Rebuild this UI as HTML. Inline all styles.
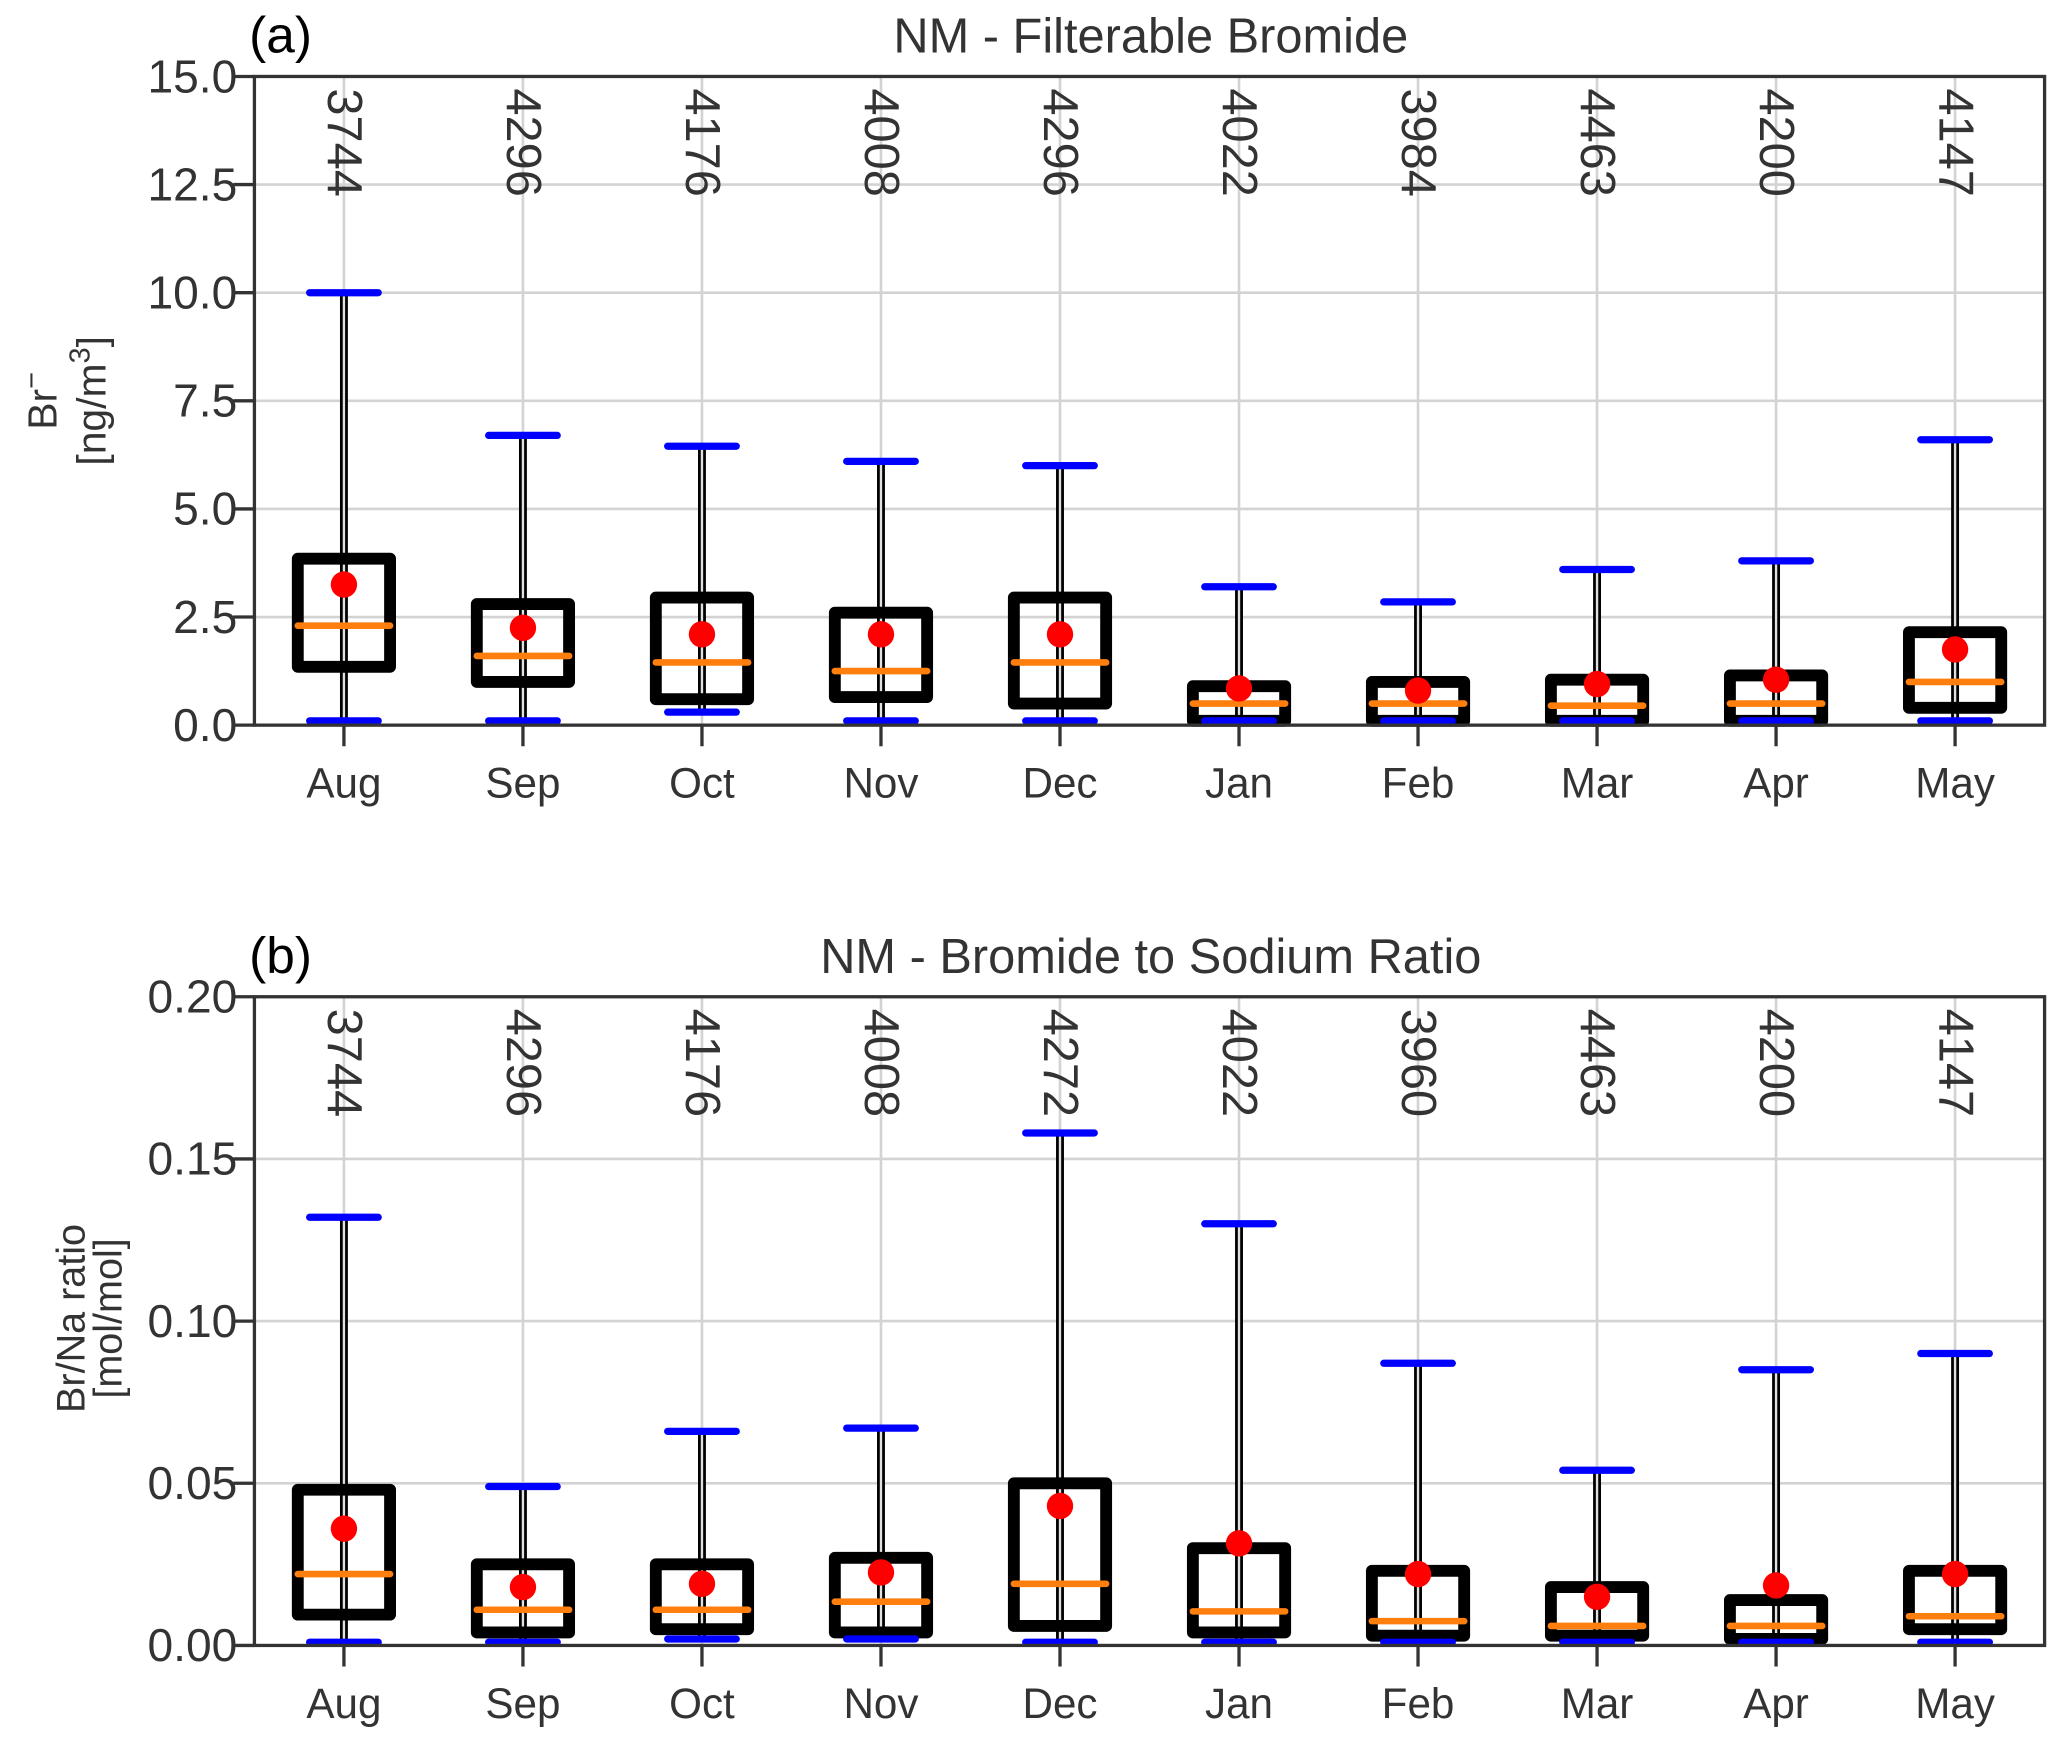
<!DOCTYPE html>
<html><head><meta charset="utf-8"><style>
html,body{margin:0;padding:0;background:#fff;}
svg{display:block;font-family:"Liberation Sans",Arial,sans-serif;}
</style></head><body>
<svg id="chart" width="2067" height="1743" viewBox="0 0 1568 1322" preserveAspectRatio="none" xmlns="http://www.w3.org/2000/svg"></svg>
<script>
const months = ["Aug","Sep","Oct","Nov","Dec","Jan","Feb","Mar","Apr","May"];
// Panel (a): filterable bromide
const aCounts = ["3744","4296","4176","4008","4296","4022","3984","4463","4200","4147"];
const aWhiskLo = [0.1,0.1,0.3,0.1,0.1,0.1,0.1,0.1,0.1,0.1];
const aWhiskHi = [10.0,6.7,6.45,6.1,6.0,3.2,2.85,3.6,3.8,6.6];
const aQ1 = [1.35,1.0,0.6,0.65,0.5,0.1,0.1,0.1,0.1,0.4];
const aQ3 = [3.85,2.8,2.95,2.6,2.95,0.9,1.0,1.05,1.15,2.15];
const aMedian = [2.3,1.6,1.45,1.25,1.45,0.5,0.5,0.45,0.5,1.0];
const aMean = [3.25,2.25,2.1,2.1,2.1,0.85,0.8,0.95,1.05,1.75];
const aTicks = [0,2.5,5,7.5,10,12.5,15];
const aTickLabels = ["0.0","2.5","5.0","7.5","10.0","12.5","15.0"];
// Panel (b): Br/Na ratio
const bCounts = ["3744","4296","4176","4008","4272","4022","3960","4463","4200","4147"];
const bWhiskLo = [0.001,0.001,0.002,0.002,0.001,0.001,0.001,0.001,0.001,0.001];
const bWhiskHi = [0.132,0.049,0.066,0.067,0.158,0.130,0.087,0.054,0.085,0.090];
const bQ1 = [0.0095,0.004,0.005,0.004,0.006,0.004,0.003,0.003,0.002,0.005];
const bQ3 = [0.048,0.025,0.025,0.027,0.050,0.030,0.023,0.018,0.014,0.023];
const bMedian = [0.022,0.011,0.011,0.0135,0.019,0.0105,0.0075,0.006,0.006,0.009];
const bMean = [0.036,0.018,0.019,0.0225,0.043,0.0315,0.022,0.015,0.0185,0.022];
const bTicks = [0,0.05,0.1,0.15,0.2];
const bTickLabels = ["0.00","0.05","0.10","0.15","0.20"];

const svg = document.getElementById('chart');
const NS = "http://www.w3.org/2000/svg";
function mk(tag, attrs, parent){
  const e = document.createElementNS(NS, tag);
  for (const k in attrs) e.setAttribute(k, attrs[k]);
  (parent||svg).appendChild(e);
  return e;
}
function panel(cfg){
  const L=193, R=1551, T=cfg.top, B=cfg.bottom;
  const xs = i => L + (i+0.5)*(R-L)/10;
  const ys = v => B - (v-cfg.ymin)/(cfg.ymax-cfg.ymin)*(B-T);
  const g = mk('g', {});
  
  
  cfg.ticks.forEach((t,i)=>{
    const gl = mk('line',{x1:L,x2:R,y1:ys(t),y2:ys(t),stroke:'#d3d3d3','stroke-width':2},g);
    
    
    const tk = mk('line',{x1:L-16,x2:L,y1:ys(t),y2:ys(t),stroke:'#333','stroke-width':2.5},g);
    
    
    const tl = mk('text',{x:L-13,y:ys(t)+12,'text-anchor':'end','font-size':35,fill:'#333'},g);
    tl.textContent = cfg.tickLabels[i];
    
    
  });
  months.forEach((m,i)=>{
    const vl = mk('line',{x1:xs(i),x2:xs(i),y1:T,y2:B,stroke:'#d3d3d3','stroke-width':2},g);
    
    
  });
  months.forEach((m,i)=>{
    const x = xs(i), hw = 35, cw = 26;
    const bg = mk('g',{},g);
    
    
    const w = mk('line',{x1:x,x2:x,y1:ys(cfg.wlo[i]),y2:ys(cfg.whi[i]),stroke:'#000','stroke-width':6},bg);
    
    
    const wg = mk('line',{x1:x,x2:x,y1:ys(cfg.wlo[i]),y2:ys(cfg.whi[i]),stroke:'#e0e0e0','stroke-width':1.8},bg);
    
    
    const rect = mk('rect',{x:x-hw,y:ys(cfg.q3[i]),width:2*hw,height:ys(cfg.q1[i])-ys(cfg.q3[i]),fill:'none',stroke:'#000','stroke-width':9,'stroke-linejoin':'round'},bg);
    
    
    [cfg.wlo[i],cfg.whi[i]].forEach(v=>{
      const c = mk('line',{x1:x-cw,x2:x+cw,y1:ys(v),y2:ys(v),stroke:'#0000ff','stroke-width':5.5,'stroke-linecap':'round'},bg);
      
      
    });
    const md = mk('line',{x1:x-hw,x2:x+hw,y1:ys(cfg.med[i]),y2:ys(cfg.med[i]),stroke:'#ff7f0e','stroke-width':5,'stroke-linecap':'round'},bg);
    
    
    const mn = mk('ellipse',{cx:x,cy:ys(cfg.mean[i]),rx:10,ry:10,fill:'#ff0000'},bg);
    
    
    const ct = mk('text',{x:0,y:0,'font-size':37,fill:'#333',transform:`translate(${x-12},${T+9}) rotate(90)`},bg);
    ct.textContent = cfg.counts[i];
    
    
    const xt = mk('line',{x1:x,x2:x,y1:B,y2:B+16,stroke:'#333','stroke-width':2.5},g);
    
    
    const xl = mk('text',{x:x,y:B+55,'text-anchor':'middle','font-size':32,fill:'#333'},g);
    xl.textContent = m;
    
    
  });
  const fr = mk('rect',{x:L,y:T,width:R-L,height:B-T,fill:'none',stroke:'#333','stroke-width':2.5},g);
  
  
  const tt = mk('text',{x:873,y:T-18,'text-anchor':'middle','font-size':37,fill:'#333'},g);
  tt.textContent = cfg.title;
  
  
  const pl = mk('text',{x:189,y:T-18,'font-size':39,fill:'#000'},g);
  pl.textContent = cfg.label;
  
  
  return g;
}
panel({name:'panel-a',top:58,bottom:550,ymin:0,ymax:15,ticks:aTicks,tickLabels:aTickLabels,
  wlo:aWhiskLo,whi:aWhiskHi,q1:aQ1,q3:aQ3,med:aMedian,mean:aMean,counts:aCounts,
  title:'NM - Filterable Bromide',label:'(a)'});
panel({name:'panel-b',top:756,bottom:1248,ymin:0,ymax:0.2,ticks:bTicks,tickLabels:bTickLabels,
  wlo:bWhiskLo,whi:bWhiskHi,q1:bQ1,q3:bQ3,med:bMedian,mean:bMean,counts:bCounts,
  title:'NM - Bromide to Sodium Ratio',label:'(b)'});
</script>
<svg style="position:absolute;left:0;top:0" width="2067" height="1743" viewBox="0 0 1568 1322" preserveAspectRatio="none" xmlns="http://www.w3.org/2000/svg" font-family="Liberation Sans, Arial, sans-serif">
  <g fill="#333" font-size="31" text-anchor="middle">
    <text transform="translate(43,304) rotate(-90)">Br<tspan dy="-12" font-size="22">−</tspan></text>
    <text transform="translate(80,304) rotate(-90)">[ng/m<tspan dy="-12" font-size="22">3</tspan><tspan dy="12">]</tspan></text>
  </g>
  <g fill="#333" font-size="30" text-anchor="middle">
    <text transform="translate(64,1000) rotate(-90)">Br/Na ratio</text>
    <text transform="translate(92,1000) rotate(-90)">[mol/mol]</text>
  </g>
</svg>
</body></html>
